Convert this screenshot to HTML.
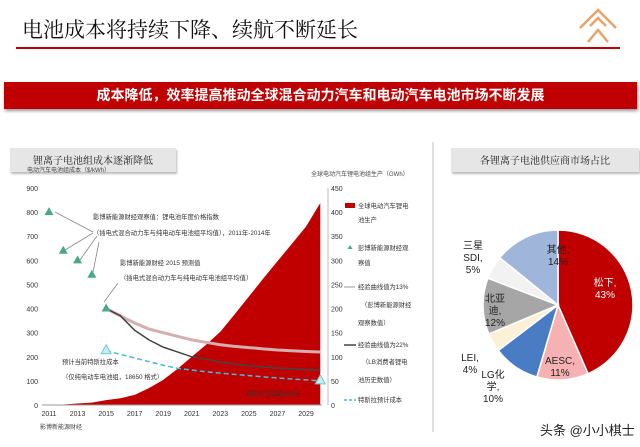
<!DOCTYPE html>
<html><head><meta charset="utf-8">
<style>
body{margin:0;width:640px;height:447px;background:#fff;overflow:hidden;font-family:"Liberation Sans","Noto Sans CJK SC",sans-serif;position:relative}
.abs{position:absolute}
</style></head><body>
<div class="abs" style="left:22px;top:14px;font-size:21px;font-family:'Noto Serif CJK SC','Noto Sans CJK SC',serif;color:#111;">电池成本将持续下降、续航不断延长</div>
<div class="abs" style="left:16px;top:47px;width:604px;height:2px;background:#c00000"></div>
<svg class="abs" style="left:576px;top:4px" width="44" height="42"><g stroke="#e9a36a" stroke-width="2.5" fill="none"><path d="M4 24 L22 6 L40 24"/><path d="M14 22 L22 14 L30 22"/><path d="M12 38 L22 26 L32 38"/></g></svg>
<div class="abs" style="left:4px;top:82px;width:633px;height:27px;background:#c00000;box-shadow:1px 2px 3px #999;color:#fff;font-size:14px;font-weight:bold;text-align:center;line-height:27px">成本降低，效率提高推动全球混合动力汽车和电动汽车电池市场不断发展</div>
<div class="abs" style="left:10px;top:148px;width:166px;height:24px;background:#e6e6e6;box-shadow:1px 2px 2px #bbb;font-size:10px;line-height:24px;text-align:center;color:#222;font-family:'Noto Serif CJK SC',serif">锂离子电池组成本逐渐降低</div>
<div class="abs" style="left:451px;top:148px;width:188px;height:24px;background:#e6e6e6;box-shadow:1px 2px 2px #bbb;font-size:10px;line-height:24px;text-align:center;color:#222;font-family:'Noto Serif CJK SC',serif">各锂离子电池供应商市场占比</div>
<div class="abs" style="left:432px;top:142px;width:2px;height:290px;background:#e0e0e0"></div>

<svg id="chart" class="abs" style="left:0;top:0" width="640" height="447"></svg>
<div class="abs" style="left:540px;top:420px;font-size:13px;color:#222;white-space:nowrap">头条 @小小棋士</div>

<script>
const years=[2011,2012,2013,2014,2015,2016,2017,2018,2019,2020,2021,2022,2023,2024,2025,2026,2027,2028,2029,2030];
const production=[0,1,3,5,10,14,21,35,52,75,100,125,152,188,225,262,298,334,370,419];
const lineYears=[2015,2016,2017,2018,2019,2020,2021,2022,2023,2024,2025,2026,2027,2028,2029,2030];
const curve13=[400,370,340,315,300,285,270,260,250,243,238,233,228,225,222,220];
const curve22=[400,370,310,270,240,220,200,190,178,170,163,158,153,150,147,145];
const tesla=[225,210,195,180,165,152,145,138,132,127,122,117,112,108,104,100];
const obsYears=[2011,2012,2013,2014,2015];
const obsValues=[800,640,600,540,400];
const teslaPtYears=[2015,2030];
const teslaPtValues=[225,100];
const leftTicks=[0,100,200,300,400,500,600,700,800,900];
const rightTicks=[0,50,100,150,200,250,300,350,400,450];
const xTicks=[2011,2013,2015,2017,2019,2021,2023,2025,2027,2029];
const pieLabels=["松下,","AESC,","LG化学,","LEI,","北亚迪,","三星SDI,","其他,"];
const pieValues=[43,11,10,4,12,5,14];
const pieColors=["#c00000","#f6b2b2","#4a7cc4","#fbf1d6","#a6a6a6","#f2f2f2","#9fb5da"];

const svg=document.getElementById('chart');
const NS='http://www.w3.org/2000/svg';
function el(t,a,p){const e=document.createElementNS(NS,t);for(const k in a)e.setAttribute(k,a[k]);(p||svg).appendChild(e);return e;}
const x=v=>49+(v-2011)*(257/18);
const yL=v=>405-v*(217/900);
const yR=v=>405-v*(217/450);
const F='"Liberation Sans","Noto Sans CJK SC",sans-serif';

let d='M'+x(years[0])+','+yR(0);
years.forEach((yr,i)=>{d+=' L'+x(yr)+','+yR(production[i]);});
d+=' L'+x(years[years.length-1])+','+yR(0)+' Z';
const area=el('path',{d:d,fill:'#c00000'});



function line(vals,stroke,w,dash,name){
  const p=el('polyline',{points:lineYears.map((yr,i)=>x(yr)+','+yL(vals[i])).join(' '),fill:'none',stroke:stroke,'stroke-width':w,'stroke-dasharray':dash||'none'});
  
  
}
line(curve13,'#f0a0a0',3,null,'curve-13-halo');
line(curve13,'#bbbbbb',1.5,null,'curve-13');
line(curve22,'#444',1.5,null,'curve-22');
line(tesla,'#4ab8d8',1.5,'5,3','tesla-line');

obsYears.forEach((yr,i)=>{
  const t=el('path',{d:`M${x(yr)},${yL(obsValues[i])-5} l4.5,8 h-9 Z`,fill:'#4aa88a'});
  
  
});
teslaPtYears.forEach((yr,i)=>{
  const t=el('path',{d:`M${x(yr)},${yL(teslaPtValues[i])-6} l5,9 h-10 Z`,fill:'#cdeaf2',stroke:'#6cc',"stroke-width":1});
  
  
});

const ax=el('line',{x1:42,y1:405,x2:322,y2:405,stroke:'#999','stroke-width':1});


el('line',{x1:328,y1:188,x2:328,y2:405,stroke:'#bbb','stroke-width':1});
leftTicks.forEach(v=>{const t=el('text',{x:38,y:yL(v)+3,'text-anchor':'end','font-size':7,fill:'#333','font-family':F});t.textContent=v;
});
rightTicks.forEach(v=>{const t=el('text',{x:331,y:yR(v)+3,'font-size':7,fill:'#333','font-family':F});t.textContent=v;
});
xTicks.forEach(v=>{const t=el('text',{x:x(v),y:416,'text-anchor':'middle','font-size':7,fill:'#333','font-family':F});t.textContent=v;
});

function txt(s,xx,yy,size,fill,name,anchor){const t=el('text',{x:xx,y:yy,'font-size':size,fill:fill||'#333','font-family':F,'text-anchor':anchor||'start'});t.textContent=s;
return t;}
txt('电动汽车电池组成本（$/kWh）',27,172,6,'#444','left-axis-title');
txt('全球电动汽车锂电池组生产（GWh）',311,176,6,'#444','right-axis-title');
txt('影博新能源财经',40,429,6,'#444','source-note');
txt('影博新能源财经观察值：锂电池年度价格指数',93,219,6.3,'#333','annotation-1');
txt('（插电式混合动力车与纯电动车电池组平均值），2011年-2014年',93,235,6.3,'#333','annotation-1b');
txt('影博新能源财经 2015 预测值',120,265,6.3,'#333','annotation-2');
txt('（插电式混合动力车与纯电动车电池组平均值）',120,280,6.3,'#333','annotation-2b');
txt('预计当前特斯拉成本',62,364,6.3,'#333','annotation-3');
txt('（仅纯电动车电池组，18650 格式）',62,379,6.3,'#333','annotation-3b');
txt('特斯拉长期最后目标',246,396,6,'#333','annotation-4');
[[55,212,93,232],[65,250,93,233],[80,260,97,236],[93,272,99,242],[104,302,118,283]].forEach(c=>{el('line',{x1:c[0],y1:c[1],x2:c[2],y2:c[3],stroke:'#888','stroke-width':0.8});});

const lg=el('rect',{x:345,y:203,width:10,height:5,fill:'#c00000'});
txt('全球电动汽车锂电',358,208,6.3,'#333','legend-text');txt('池生产',358,222,6.3,'#333','legend-text');
el('path',{d:'M350,245 l2.5,4 h-5 Z',fill:'#4aa88a'});
txt('彭博新能源财经观',358,250,6.3,'#333','legend-text');txt('察值',358,265,6.3,'#333','legend-text');
el('line',{x1:344,y1:287,x2:355,y2:287,stroke:'#bbb','stroke-width':1.5});
txt('经验曲线值为13%',358,289,6.3,'#333','legend-text');txt('（彭博新能源财经',361,307,6.3,'#333','legend-text');txt('观察数值）',358,325,6.3,'#333','legend-text');
el('line',{x1:344,y1:345,x2:356,y2:345,stroke:'#444','stroke-width':1.5});
txt('经验曲线值为22%',358,347,6.3,'#333','legend-text');txt('（LB消费者锂电',362,364,6.3,'#333','legend-text');txt('池历史数值）',358,382,6.3,'#333','legend-text');
el('line',{x1:344,y1:400,x2:356,y2:400,stroke:'#4ab8d8','stroke-width':1.5,'stroke-dasharray':'3,2'});
txt('特斯拉预计成本',358,402,6.3,'#333','legend-text');

const cx=558,cy=305,r=75;let a0=-Math.PI/2;const tot=pieValues.reduce((s,v)=>s+v,0);
pieValues.forEach((v,i)=>{
  const a1=a0+v/tot*2*Math.PI;
  const large=(a1-a0)>Math.PI?1:0;
  const p=el('path',{d:`M${cx},${cy} L${cx+r*Math.cos(a0)},${cy+r*Math.sin(a0)} A${r},${r} 0 ${large} 1 ${cx+r*Math.cos(a1)},${cy+r*Math.sin(a1)} Z`,fill:pieColors[i],stroke:'#fff','stroke-width':1.5});
  
  
  a0=a1;
});
const pl=[[605,286,'#fff'],[560,364,'#222'],[493,378,'#222'],[470,361,'#222'],[495,302,'#222'],[473,249,'#222'],[558,253,'#222']];
pl.forEach((p,i)=>{
  const lbl=pieLabels[i];
  const lines= i==2?['LG化','学,',pieValues[i]+'%']: i==4?['北亚','迪,',pieValues[i]+'%']: i==5?['三星','SDI,',pieValues[i]+'%']:[lbl,pieValues[i]+'%'];
  lines.forEach((s,j)=>{txt(s,p[0],p[1]+j*12,10,p[2],'pie-label','middle');});
});
</script>
</body></html>
